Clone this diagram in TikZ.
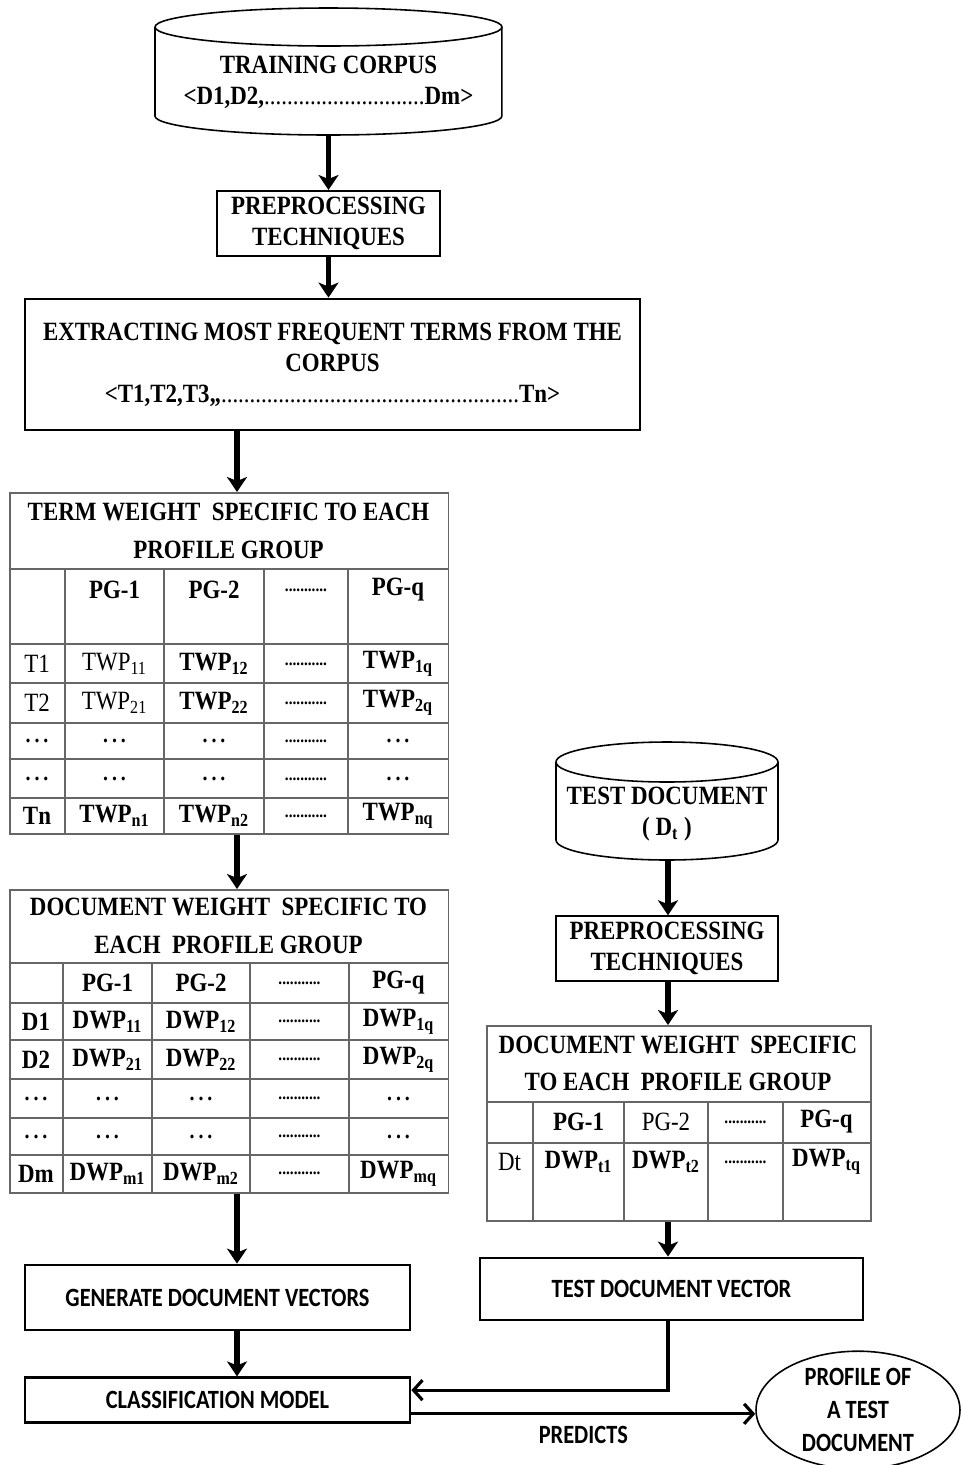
\documentclass[tikz,border=0pt]{standalone}
\usepackage{fontspec}
\setmainfont{Liberation Serif}[FakeStretch=0.87]
\newfontfamily\sansfnt{Carlito}[FakeStretch=0.85]
\usetikzlibrary{shapes.geometric, positioning, arrows.meta}

\newcommand{\twp}[1]{TWP\textsubscript{#1}}
\newcommand{\dwp}[1]{DWP\textsubscript{#1}}
\newcommand{\dotcell}{{\fontsize{10}{10}\selectfont ...........}}
\newcommand{\ellcell}{{\fontsize{13}{13}\selectfont .\,.\,.}}

\begin{document}
\begin{tikzpicture}[
    x=0.02cm, y=-0.02cm,
    every node/.style={font=\bfseries\fontsize{15}{17.6}\selectfont},
    dbtext/.style={align=center, inner sep=0pt},
    dbline/.style={draw, line width=0.9pt},
    block/.style={rectangle, draw, line width=1.2pt, align=center},
    vecbox/.style={
        rectangle, draw, line width=1.6pt,
        font=\sansfnt\bfseries\fontsize{15}{18}\selectfont
    },
    sanslbl/.style={font=\sansfnt\bfseries\fontsize{15}{18.7}\selectfont, align=center},
    tbl/.style={rectangle, draw=black!60, line width=0.9pt},
    tline/.style={draw=black!60, line width=0.9pt},
    title/.style={align=center, font=\bfseries\fontsize{15}{21.5}\selectfont},
    cell/.style={inner sep=0pt},
    arrow/.style={-{Stealth[length=0.3cm, width=0.4cm, inset=0.08cm]}, line width=3pt},
    thinarrow/.style={-{Straight Barb[length=0.18cm, width=0.4cm]}, line width=1.8pt}
]
\useasboundingbox (0,0) rectangle (961,1465);
\coordinate (lcol) at (237,0);
\coordinate (rcol) at (668,0);

% --- Training side ---
\node[dbtext] (train) at (328.5,82.5)
    {TRAINING CORPUS\\<D1,D2,{\mdseries ............................}Dm>};
\draw[dbline] (train.center) ++(0,-55.5) ellipse[x radius=3.47cm, y radius=0.38cm];
\draw[dbline] (train.center) ++(-173.5,-55.5) -- ++(0,89)
    arc[start angle=180, end angle=360, x radius=3.47cm, y radius=0.38cm] -- ++(0,-89);
\coordinate (trainbot) at ([yshift=-1.05cm]train.center);

\node[block, minimum width=4.46cm, minimum height=1.3cm, below=1.1cm of trainbot] (prep1)
    {PREPROCESSING\\TECHNIQUES};
\node[block, line width=1.6pt, minimum width=12.3cm, minimum height=2.62cm] (extract) at (332.5,364.5)
    {EXTRACTING MOST FREQUENT TERMS FROM THE\\CORPUS\\<T1,T2,T3,,{\mdseries ....................................................}Tn>};

% term weight table
\node[tbl, anchor=north west, minimum width=8.78cm, minimum height=6.82cm] (twtab) at (9,492) {};
\foreach \yy in {569,644,683,723,759,798} \draw[tline] (9,\yy) -- (448,\yy);
\foreach \xx in {65,164,264,348} \draw[tline] (\xx,569) -- (\xx,833);
\node[title] (twtitle) at (228.5,531) {TERM WEIGHT~~SPECIFIC TO EACH\\PROFILE GROUP};
\foreach \xx/\txt [count=\i] in {114.5/PG-1, 214/PG-2, 306/\dotcell, 398/PG-q}
    \node[cell] (twh-\i) at (\xx,590) {\txt};
\foreach \xx/\txt [count=\i] in {37/\mdseries T1, 114.5/\mdseries\twp{11}, 214/\twp{12}, 306/\dotcell, 398/\twp{1q}}
    \node[cell] (twa-\i) at (\xx,664) {\txt};
\foreach \xx/\txt [count=\i] in {37/\mdseries T2, 114.5/\mdseries\twp{21}, 214/\twp{22}, 306/\dotcell, 398/\twp{2q}}
    \node[cell] (twb-\i) at (\xx,703) {\txt};
\foreach \xx/\txt [count=\i] in {37/\ellcell, 114.5/\ellcell, 214/\ellcell, 306/\dotcell, 398/\ellcell}
    \node[cell] (twc-\i) at (\xx,741) {\txt};
\foreach \xx/\txt [count=\i] in {37/\ellcell, 114.5/\ellcell, 214/\ellcell, 306/\dotcell, 398/\ellcell}
    \node[cell] (twd-\i) at (\xx,779) {\txt};
\foreach \xx/\txt [count=\i] in {37/Tn, 114.5/\twp{n1}, 214/\twp{n2}, 306/\dotcell, 398/\twp{nq}}
    \node[cell] (twe-\i) at (\xx,816) {\txt};

% document weight table
\node[tbl, anchor=north west, minimum width=8.78cm, minimum height=6.06cm] (dwtab) at (9,889) {};
\foreach \yy in {963,1003,1040,1079,1118,1155} \draw[tline] (9,\yy) -- (448,\yy);
\foreach \xx in {63,152,250,349} \draw[tline] (\xx,963) -- (\xx,1192);
\node[title] (dwtitle) at (228.5,926) {DOCUMENT WEIGHT~~SPECIFIC TO\\EACH~~PROFILE GROUP};
\foreach \xx/\txt [count=\i] in {107.5/PG-1, 201/PG-2, 299.5/\dotcell, 398.5/PG-q}
    \node[cell] (dwh-\i) at (\xx,983) {\txt};
\foreach \xx/\txt [count=\i] in {36/D1, 107.5/\dwp{11}, 201/\dwp{12}, 299.5/\dotcell, 398.5/\dwp{1q}}
    \node[cell] (dwa-\i) at (\xx,1021.5) {\txt};
\foreach \xx/\txt [count=\i] in {36/D2, 107.5/\dwp{21}, 201/\dwp{22}, 299.5/\dotcell, 398.5/\dwp{2q}}
    \node[cell] (dwb-\i) at (\xx,1059.5) {\txt};
\foreach \xx/\txt [count=\i] in {36/\ellcell, 107.5/\ellcell, 201/\ellcell, 299.5/\dotcell, 398.5/\ellcell}
    \node[cell] (dwc-\i) at (\xx,1098.5) {\txt};
\foreach \xx/\txt [count=\i] in {36/\ellcell, 107.5/\ellcell, 201/\ellcell, 299.5/\dotcell, 398.5/\ellcell}
    \node[cell] (dwd-\i) at (\xx,1136.5) {\txt};
\foreach \xx/\txt [count=\i] in {36/Dm, 107.5/\dwp{m1}, 201/\dwp{m2}, 299.5/\dotcell, 398.5/\dwp{mq}}
    \node[cell] (dwe-\i) at (\xx,1173.5) {\txt};

\node[vecbox, minimum width=7.7cm, minimum height=1.3cm] (gen) at (217.5,1297.5) {GENERATE DOCUMENT VECTORS};
\node[vecbox, minimum width=7.7cm, minimum height=0.9cm, below=0.9cm of gen] (class) {CLASSIFICATION MODEL};

% --- Test side ---
\node[dbtext] (test) at (667,814.5) {TEST DOCUMENT\\(~D\textsubscript{t}~)};
\draw[dbline] (test.center) ++(0,-52.5) ellipse[x radius=2.22cm, y radius=0.4cm];
\draw[dbline] (test.center) ++(-111,-52.5) -- ++(0,78)
    arc[start angle=180, end angle=360, x radius=2.22cm, y radius=0.4cm] -- ++(0,-78);
\coordinate (testbot) at ([yshift=-0.91cm]test.center);

\node[block, minimum width=4.44cm, minimum height=1.26cm] (prep2) at (667,948.5)
    {PREPROCESSING\\TECHNIQUES};

% test document weight table
\node[tbl, anchor=north west, minimum width=7.68cm, minimum height=3.9cm] (dttab) at (486,1025) {};
\foreach \yy in {1102,1143} \draw[tline] (486,\yy) -- (870,\yy);
\foreach \xx in {533,624,708,783} \draw[tline] (\xx,1102) -- (\xx,1220);
\node[title] (dttitle) at (678,1063.5) {DOCUMENT WEIGHT~~SPECIFIC\\TO EACH~~PROFILE GROUP};
\foreach \xx/\txt [count=\i] in {578.5/PG-1, 666/\mdseries PG-2, 745.5/\dotcell, 826.5/PG-q}
    \node[cell] (dth-\i) at (\xx,1122) {\txt};
\foreach \xx/\txt [count=\i] in {509.5/\mdseries Dt, 578.5/\dwp{t1}, 666/\dwp{t2}, 745.5/\dotcell, 826.5/\dwp{tq}}
    \node[cell] (dta-\i) at (\xx,1162) {\txt};

\node[vecbox, minimum width=7.66cm, minimum height=1.24cm] (tvec) at (671.5,1289) {TEST DOCUMENT VECTOR};
\node[ellipse, draw, line width=0.9pt, sanslbl, minimum width=4.08cm, minimum height=2.2cm, inner sep=0pt] (profile) at (858,1410)
    {PROFILE OF\\A TEST\\DOCUMENT};

% --- Arrows ---
\draw[arrow] (trainbot) -- (prep1);
\draw[arrow] (prep1) -- (prep1 |- extract.north);
\draw[arrow] (extract.south -| lcol) -- (twtab.north -| lcol);
\draw[arrow] (twtab.south -| lcol) -- (dwtab.north -| lcol);
\draw[arrow] (dwtab.south -| lcol) -- (gen.north -| lcol);
\draw[arrow] (gen.south -| lcol) -- (class.north -| lcol);
\draw[arrow] (testbot -| rcol) -- (prep2.north -| rcol);
\draw[arrow] (prep2.south -| rcol) -- (dttab.north -| rcol);
\draw[arrow] (dttab.south -| rcol) -- (tvec.north -| rcol);
\draw[thinarrow] (tvec.south -| rcol) |- (class.3.7);
\draw[thinarrow] (class.-4.6) -- node[sanslbl, below=3pt] (pred) {PREDICTS} (class.-4.6 -| profile.west);

\end{tikzpicture}
\end{document}
